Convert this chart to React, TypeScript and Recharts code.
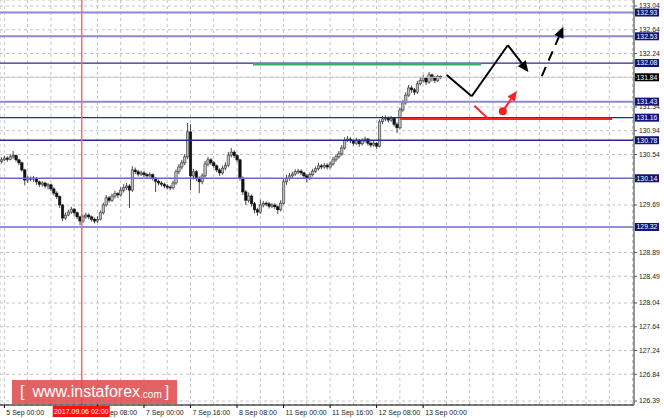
import React from 'react';
import { ComposedChart, Bar, XAxis, YAxis, CartesianGrid, ReferenceLine, ReferenceDot } from 'recharts';

// H1 candles, slot 0 = 4 Sep 23:00, one slot per hour (weekend skipped)
const firstOpen = 130.42;
const closes = [
  130.45, 130.48, 130.46, 130.50, 130.52, 130.45, 130.40, 130.28, 130.11, 130.14,
  130.13, 130.14, 130.08, 130.04, 130.06, 130.01, 130.03, 129.96, 129.89, 129.83,
  129.69, 129.47, 129.52, 129.57, 129.62, 129.56, 129.49, 129.42, 129.49, 129.52,
  129.49, 129.45, 129.42, 129.45, 129.56, 129.69, 129.81, 129.77, 129.84, 129.88,
  129.86, 129.94, 129.98, 130.01, 129.94, 130.28, 130.25, 130.21, 130.23, 130.20,
  130.18, 130.20, 130.14, 130.09, 130.06, 130.04, 130.01, 129.99, 129.98, 130.06,
  130.25, 130.33, 130.40, 130.50, 130.92, 130.18, 130.25, 130.14, 130.08, 130.18,
  130.38, 130.45, 130.40, 130.35, 130.28, 130.23, 130.31, 130.36, 130.53, 130.58,
  130.52, 130.45, 130.14, 129.91, 129.77, 129.84, 129.71, 129.61, 129.57, 129.69,
  129.72, 129.71, 129.67, 129.69, 129.66, 129.61, 129.72, 130.08, 130.14, 130.18,
  130.21, 130.25, 130.26, 130.23, 130.18, 130.14, 130.20, 130.26, 130.30, 130.35,
  130.33, 130.36, 130.33, 130.38, 130.45, 130.50, 130.55, 130.65, 130.78, 130.80,
  130.77, 130.73, 130.78, 130.72, 130.77, 130.80, 130.73, 130.70, 130.73, 130.68,
  131.09, 131.14, 131.15, 131.12, 131.15, 131.05, 130.99, 131.29, 131.41, 131.54,
  131.66, 131.63, 131.59, 131.73, 131.79, 131.83, 131.76, 131.88, 131.83, 131.79,
  131.85, 131.84,
];
const highs = [
  130.49, 130.52, 130.51, 130.55, 130.60, 130.54, 130.47, 130.42, 130.30, 130.18,
  130.17, 130.18, 130.16, 130.10, 130.09, 130.08, 130.06, 130.05, 129.99, 129.92,
  129.85, 129.71, 129.56, 129.61, 129.66, 129.64, 129.58, 129.51, 129.53, 129.56,
  129.55, 129.51, 129.48, 129.50, 129.60, 129.73, 129.86, 129.84, 129.88, 129.93,
  129.91, 129.99, 130.04, 130.06, 130.04, 130.34, 130.32, 130.28, 130.27, 130.26,
  130.23, 130.24, 130.22, 130.16, 130.12, 130.09, 130.07, 130.04, 130.02, 130.10,
  130.29, 130.38, 130.45, 130.55, 131.07, 131.05, 130.30, 130.28, 130.17, 130.22,
  130.43, 130.50, 130.48, 130.43, 130.37, 130.31, 130.35, 130.41, 130.58, 130.65,
  130.61, 130.55, 130.47, 130.17, 129.94, 129.90, 129.87, 129.74, 129.64, 129.78,
  129.76, 129.75, 129.74, 129.72, 129.72, 129.68, 129.77, 130.14, 130.20, 130.23,
  130.25, 130.29, 130.30, 130.29, 130.25, 130.21, 130.24, 130.30, 130.34, 130.40,
  130.38, 130.40, 130.39, 130.42, 130.50, 130.54, 130.60, 130.70, 130.83, 130.85,
  130.83, 130.79, 130.82, 130.80, 130.81, 130.84, 130.82, 130.76, 130.77, 130.75,
  131.13, 131.19, 131.20, 131.18, 131.19, 131.17, 131.08, 131.33, 131.46, 131.59,
  131.71, 131.70, 131.66, 131.78, 131.85, 131.88, 131.85, 131.93, 131.90, 131.86,
  131.88, 131.87,
];
const lows = [
  130.39, 130.43, 130.42, 130.44, 130.47, 130.42, 130.36, 130.25, 130.02, 130.06,
  130.09, 130.08, 130.03, 129.99, 130.00, 129.97, 129.95, 129.92, 129.85, 129.79,
  129.64, 129.42, 129.44, 129.50, 129.54, 129.51, 129.45, 129.35, 129.39, 129.46,
  129.45, 129.41, 129.38, 129.39, 129.43, 129.53, 129.66, 129.73, 129.74, 129.80,
  129.81, 129.83, 129.90, 129.94, 129.64, 129.91, 130.21, 130.17, 130.18, 130.16,
  130.14, 130.15, 130.10, 129.91, 130.02, 130.00, 129.97, 129.95, 129.94, 129.95,
  130.03, 130.21, 130.29, 130.36, 130.46, 129.94, 130.12, 130.09, 129.89, 130.04,
  130.15, 130.34, 130.36, 130.31, 130.24, 130.18, 130.20, 130.27, 130.33, 130.49,
  130.48, 130.41, 130.10, 129.86, 129.69, 129.73, 129.66, 129.55, 129.51, 129.54,
  129.65, 129.67, 129.63, 129.64, 129.62, 129.54, 129.58, 129.70, 130.03, 130.10,
  130.14, 130.18, 130.21, 130.19, 130.14, 130.07, 130.11, 130.17, 130.23, 130.27,
  130.29, 130.30, 130.29, 130.30, 130.35, 130.42, 130.47, 130.52, 130.62, 130.75,
  130.73, 130.69, 130.70, 130.67, 130.69, 130.74, 130.69, 130.66, 130.67, 130.63,
  130.66, 131.05, 131.10, 131.08, 131.09, 131.01, 130.90, 130.96, 131.26, 131.38,
  131.51, 131.58, 131.54, 131.56, 131.70, 131.75, 131.71, 131.73, 131.77, 131.74,
  131.76, 131.81,
];
const SLOTS = 218;

// time axis
const gridSlots = [1, 9, 17, 25, 33, 41, 49, 57, 65, 73, 81, 89, 97, 105, 113, 121, 129, 137, 145, 153, 161, 169, 177, 185, 193, 201, 209, 217];
const labelSlots = [1, 33, 49, 65, 81, 97, 113, 129, 145];
const labelTexts = ['5 Sep 00:00', '6 Sep 08:00', '7 Sep 00:00', '7 Sep 16:00', '8 Sep 08:00', '11 Sep 00:00', '11 Sep 16:00', '12 Sep 08:00', '13 Sep 00:00'];

// price axis
const yTicks = [133.04, 132.64, 132.24, 131.84, 131.34, 130.94, 130.54, 130.14, 129.69, 128.89, 128.49, 128.04, 127.64, 127.24, 126.84, 126.39];
const levels = [132.93, 132.53, 132.08, 131.43, 131.16, 130.78, 130.14, 129.32];
const levelTones = ['light', 'light', 'dark', 'light', 'dark', 'dark', 'mid', 'mid'];
const bid = 131.84;

// markers drawn on the chart (slot, price)
const markSlot = 27.6;
const markText = '2017.09.06 02:00';
const greenSeg = [[86.5, 132.06], [164.9, 132.06]];
const redSeg = [[137.1, 131.14], [210.0, 131.14]];
const blackPath = [[153.1, 131.88], [161.7, 131.52], [174.1, 132.38], [181.2, 131.93]];
const dashArrow = [[185.8, 131.86], [193.2, 132.69]];
const redTick = [[162.6, 131.36], [167.4, 131.14]];
const redDot = [172.4, 131.27];
const redArrow = [[172.4, 131.27], [177.2, 131.61]];

const FONT = '"Liberation Sans", Arial, sans-serif';
const TONES: Record<string, [string, number]> = {
  light: ['#8a8ad0', 2],
  mid: ['#6b6bc0', 1.6],
  dark: ['#2a2a8c', 1.3],
};

const data = Array.from({ length: SLOTS }, (_, i) =>
  i < closes.length
    ? { i, o: i === 0 ? firstOpen : closes[i - 1], c: closes[i], h: highs[i], l: lows[i] }
    : { i }
);

function Candle(props: any) {
  const { x, y, width, height, payload } = props;
  if (!payload || payload.c == null || !isFinite(y) || !isFinite(height)) return <g />;
  const top = Math.min(y, y + height);
  const span = Math.abs(height);
  const k = span / (payload.h - payload.l || 1e-6);
  const cx = x + width / 2;
  const hi = Math.max(payload.o, payload.c);
  const lo = Math.min(payload.o, payload.c);
  const bTop = top + (payload.h - hi) * k;
  const bH = Math.max((hi - lo) * k, 0.8);
  const up = payload.c >= payload.o;
  return (
    <g>
      <line x1={cx} x2={cx} y1={top} y2={top + span} stroke="#333" strokeWidth={0.9} />
      <rect x={cx - 1.2} y={bTop} width={2.4} height={bH} fill={up ? '#c0c0c0' : '#111'} stroke={up ? '#333' : '#111'} strokeWidth={0.6} />
    </g>
  );
}

const arrowShape = (head: number, dash?: string) => (p: any) => {
  const { x1, y1, x2, y2, stroke, strokeWidth } = p;
  const dx = x2 - x1;
  const dy = y2 - y1;
  const len = Math.hypot(dx, dy) || 1;
  const ux = dx / len;
  const uy = dy / len;
  const bx = x2 - ux * head;
  const by = y2 - uy * head;
  const w = head * 0.45;
  const pts = `${x2},${y2} ${bx - uy * w},${by + ux * w} ${bx + uy * w},${by - ux * w}`;
  return (
    <g>
      <line x1={x1} y1={y1} x2={bx} y2={by} stroke={stroke} strokeWidth={strokeWidth} strokeDasharray={dash} />
      <polygon points={pts} fill={stroke} />
    </g>
  );
};

function LevelTag(props: any) {
  const { viewBox, text, bg } = props;
  if (!viewBox) return null;
  const x = viewBox.x + viewBox.width + 1;
  const y = viewBox.y;
  return (
    <g>
      <rect x={x} y={y - 4} width={24} height={8} fill={bg} />
      <text x={x + 12} y={y + 2.4} textAnchor="middle" fontSize={6.8} fill="#fff" fontFamily={FONT}>
        {text}
      </text>
    </g>
  );
}

// red time box under the vertical marker, drawn by the label it covers
function dateBox(cx: number, y: number) {
  return (
    <g>
      <rect x={cx - 29} y={y + 1} width={57} height={11} fill="#ff1010" />
      <text x={cx - 0.5} y={y + 9.2} textAnchor="middle" fontSize={7} fill="#fff" fontFamily={FONT}>
        {markText}
      </text>
    </g>
  );
}

function TimeTick(props: any) {
  const { x, y, payload } = props;
  const k = labelSlots.indexOf(payload.value);
  if (k < 0) return <g />;
  const band = x / (payload.value + 0.5);
  const covers = payload.value > markSlot && payload.value <= markSlot + 12;
  return (
    <g>
      <line x1={x} x2={x} y1={y} y2={y + 3} stroke="#000" />
      <text x={x + 2} y={y + 9.5} fontSize={7} fill="#222" fontFamily={FONT}>
        {labelTexts[k]}
      </text>
      {covers ? dateBox((markSlot + 0.5) * band, y) : null}
    </g>
  );
}

function PriceTick(props: any) {
  const { x, y, payload } = props;
  const v = payload.value;
  const covered = v === bid || levels.some((l) => Math.abs(l - v) < 0.02);
  return (
    <g>
      <line x1={x} x2={x + 3} y1={y} y2={y} stroke="#555" />
      {covered ? null : (
        <text x={x + 5} y={y + 2.4} fontSize={6.8} fill="#222" fontFamily={FONT}>
          {v.toFixed(2)}
        </text>
      )}
    </g>
  );
}

const seg = (s: number[][]) => [{ x: s[0][0], y: s[0][1] }, { x: s[1][0], y: s[1][1] }];

export default function App() {
  return (
    <div style={{ position: 'absolute', left: 0, top: 0, width: 664, height: 418, background: '#fff', overflow: 'hidden' }}>
      <ComposedChart width={664} height={418} data={data} margin={{ top: 0, right: 0, bottom: 0, left: 0 }} barCategoryGap={0}>
        <CartesianGrid stroke="#c4c4c4" strokeDasharray="3 3" />
        <XAxis
          dataKey="i"
          type="category"
          ticks={gridSlots}
          interval={0}
          height={13}
          tickSize={0}
          tickMargin={0}
          tickLine={false}
          axisLine={{ stroke: '#000', strokeWidth: 1.2 }}
          tick={<TimeTick />}
        />
        <XAxis xAxisId="n" dataKey="i" type="number" domain={[-0.5, SLOTS - 0.5]} allowDataOverflow hide />
        <YAxis
          orientation="right"
          width={30}
          type="number"
          domain={[126.323, 133.141]}
          allowDataOverflow
          ticks={yTicks}
          interval={0}
          tickSize={0}
          tickMargin={0}
          tickLine={false}
          axisLine={{ stroke: '#777', strokeWidth: 1.5 }}
          tick={<PriceTick />}
        />
        <Bar dataKey={(d: any) => (d.c == null ? undefined : [d.l, d.h])} shape={<Candle />} isAnimationActive={false} />

        <ReferenceLine y={bid} stroke="#c8c8c8" strokeWidth={1} label={<LevelTag text={bid.toFixed(2)} bg="#000" />} />
        {levels.map((v, k) => (
          <ReferenceLine
            key={v}
            y={v}
            stroke={TONES[levelTones[k]][0]}
            strokeWidth={TONES[levelTones[k]][1]}
            label={<LevelTag text={v.toFixed(2)} bg="#12127e" />}
          />
        ))}
        <ReferenceLine xAxisId="n" x={markSlot} stroke="#f76b6b" strokeWidth={1.5} />

        <ReferenceLine xAxisId="n" segment={seg(greenSeg)} stroke="#3aae62" strokeWidth={2.6} />
        <ReferenceLine xAxisId="n" segment={seg(redSeg)} stroke="#f22" strokeWidth={2.4} />
        {blackPath.slice(0, -1).map((p, k) => (
          <ReferenceLine
            key={'b' + k}
            xAxisId="n"
            segment={seg([p, blackPath[k + 1]])}
            stroke="#000"
            strokeWidth={2}
            shape={k === blackPath.length - 2 ? arrowShape(11) : undefined}
          />
        ))}
        <ReferenceLine xAxisId="n" segment={seg(dashArrow)} stroke="#000" strokeWidth={2} shape={arrowShape(11, '10 7')} />
        <ReferenceLine xAxisId="n" segment={seg(redTick)} stroke="#f22" strokeWidth={2} />
        <ReferenceLine xAxisId="n" segment={seg(redArrow)} stroke="#f22" strokeWidth={2} shape={arrowShape(10)} />
        <ReferenceDot xAxisId="n" x={redDot[0]} y={redDot[1]} r={4} fill="#ee2222" stroke="none" />
      </ComposedChart>
      <div
        style={{
          position: 'absolute',
          left: 12,
          top: 380,
          width: 165,
          height: 24,
          background: 'rgba(220,72,72,0.85)',
          color: '#fff',
          fontFamily: FONT,
          display: 'flex',
          alignItems: 'center',
          whiteSpace: 'nowrap',
          boxSizing: 'border-box',
          paddingLeft: 8,
        }}
      >
        <span style={{ fontSize: 16, fontWeight: 300 }}>[</span>
        <span style={{ fontSize: 16, marginLeft: 8 }}>www.instaforex</span>
        <span style={{ fontSize: 10, marginTop: 4 }}>.com</span>
        <span style={{ fontSize: 16, fontWeight: 300, marginLeft: 3 }}>]</span>
      </div>
    </div>
  );
}
